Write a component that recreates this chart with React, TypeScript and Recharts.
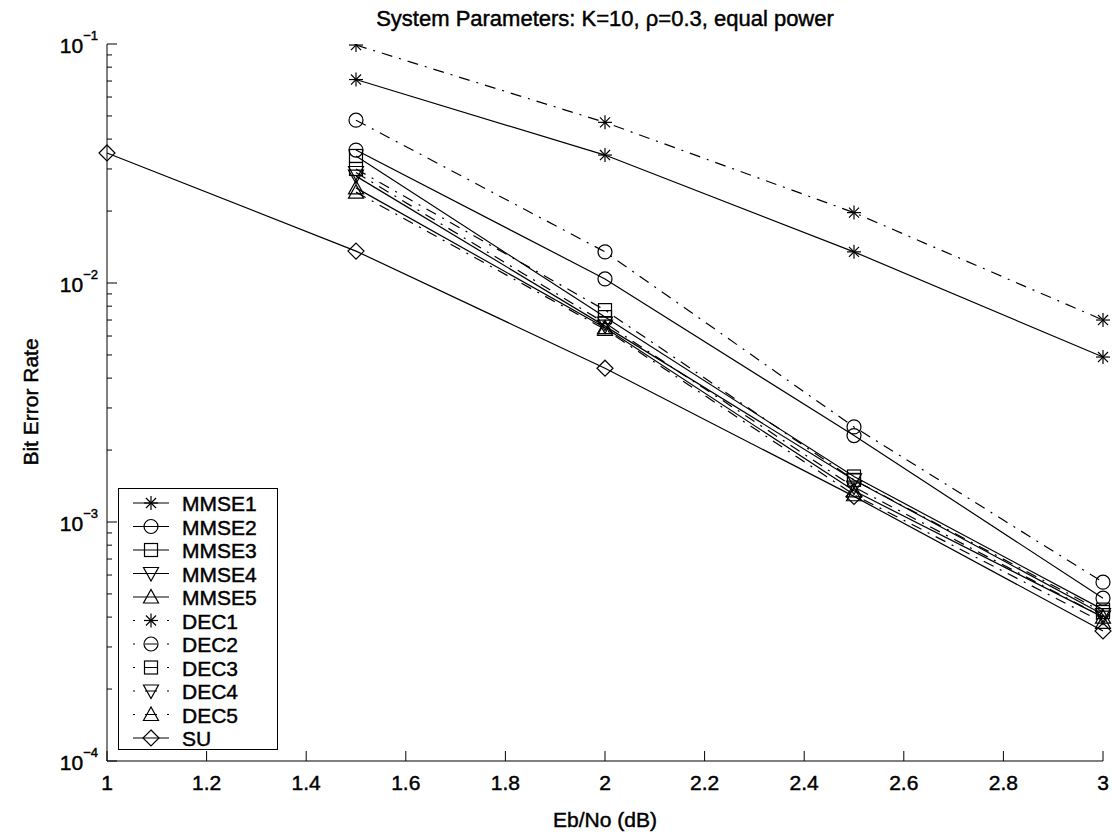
import React from "react";
import { LineChart, Line, XAxis, YAxis } from "recharts";

const ebno = [1, 1.5, 2, 2.5, 3];
const seriesNames = ["MMSE1", "MMSE2", "MMSE3", "MMSE4", "MMSE5", "DEC1", "DEC2", "DEC3", "DEC4", "DEC5", "SU"];
const mmse1 = [null, 0.071, 0.0343, 0.0135, 0.0049];
const mmse2 = [null, 0.036, 0.0104, 0.0023, 0.00048];
const mmse3 = [null, 0.034, 0.0072, 0.00155, 0.00043];
const mmse4 = [null, 0.028, 0.0066, 0.0015, 0.00041];
const mmse5 = [null, 0.025, 0.0065, 0.00135, 0.0004];
const dec1 = [null, 0.099, 0.047, 0.0197, 0.007];
const dec2 = [null, 0.048, 0.0135, 0.0025, 0.00056];
const dec3 = [null, 0.03, 0.0077, 0.0015, 0.00042];
const dec4 = [null, 0.029, 0.0068, 0.0014, 0.0004];
const dec5 = [null, 0.024, 0.0064, 0.0013, 0.00038];
const su = [0.035, 0.0136, 0.0044, 0.00128, 0.00035];
const xTicks = [1, 1.2, 1.4, 1.6, 1.8, 2, 2.2, 2.4, 2.6, 2.8, 3];
const yMajorTicks = [1e-4, 1e-3, 1e-2, 1e-1];
const yMinorMultipliers = [2, 3, 4, 5, 6, 7, 8, 9];

const seriesValues = [mmse1, mmse2, mmse3, mmse4, mmse5, dec1, dec2, dec3, dec4, dec5, su];
const markers = ["star", "circle", "square", "tdown", "tup", "star", "circle", "square", "tdown", "tup", "diamond"];
const dashed = [false, false, false, false, false, true, true, true, true, true, false];

const data = ebno.map((x, i) => {
  const row: any = { x };
  seriesNames.forEach((n, k) => {
    row[n] = seriesValues[k][i];
  });
  return row;
});

const yTicks: number[] = [];
yMajorTicks.forEach((d, i) => {
  yTicks.push(d);
  if (i < yMajorTicks.length - 1) yMinorMultipliers.forEach((m) => yTicks.push(+(m * d).toPrecision(3)));
});

const FONT = "'Liberation Sans', Arial, Helvetica, sans-serif";
const DASH = "11 7 2 7";
const TXT = { fontFamily: FONT, fill: "#000", stroke: "#000", strokeWidth: 0.45 };

function Marker({ type, cx, cy }: { type: string; cx: number; cy: number }) {
  const st = { stroke: "#000", strokeWidth: 1.2, fill: "none" };
  const r = 7;
  switch (type) {
    case "star":
      return (
        <g {...st}>
          <line x1={cx - r} y1={cy} x2={cx + r} y2={cy} />
          <line x1={cx} y1={cy - r} x2={cx} y2={cy + r} />
          <line x1={cx - r * 0.72} y1={cy - r * 0.72} x2={cx + r * 0.72} y2={cy + r * 0.72} />
          <line x1={cx - r * 0.72} y1={cy + r * 0.72} x2={cx + r * 0.72} y2={cy - r * 0.72} />
        </g>
      );
    case "circle":
      return <circle cx={cx} cy={cy} r={r} {...st} />;
    case "square":
      return <rect x={cx - 6.5} y={cy - 6.5} width={13} height={13} {...st} />;
    case "tdown":
      return <polygon points={`${cx - 7.5},${cy - 6} ${cx + 7.5},${cy - 6} ${cx},${cy + 7.5}`} {...st} />;
    case "tup":
      return <polygon points={`${cx - 7.5},${cy + 6} ${cx + 7.5},${cy + 6} ${cx},${cy - 7.5}`} {...st} />;
    case "diamond":
      return <polygon points={`${cx},${cy - 8} ${cx + 8},${cy} ${cx},${cy + 8} ${cx - 8},${cy}`} {...st} />;
    default:
      return null;
  }
}

const isMajor = (v: number) => Math.abs(Math.log10(v) - Math.round(Math.log10(v))) < 1e-6;

function BottomTick(props: any) {
  const { x, y, payload } = props;
  return (
    <g>
      <line x1={x} y1={y} x2={x} y2={y - 10} stroke="#000" />
      <text x={x} y={y + 29} textAnchor="middle" fontSize={21} {...TXT}>
        {String(payload.value)}
      </text>
    </g>
  );
}
function TopTick(props: any) {
  const { x, y } = props;
  return <line x1={x} y1={y} x2={x} y2={y + 10} stroke="#000" />;
}
function LeftTick(props: any) {
  const { x, y, payload } = props;
  const major = isMajor(payload.value);
  const exp = Math.round(Math.log10(payload.value));
  return (
    <g>
      <line x1={x} y1={y} x2={x + (major ? 10 : 5)} y2={y} stroke="#000" />
      {major && (
        <text x={x - 9} y={y + 9} textAnchor="end" {...TXT}>
          <tspan fontSize={21}>10</tspan>
          <tspan fontSize={13} dy={-13}>{"\u2212" + Math.abs(exp)}</tspan>
        </text>
      )}
    </g>
  );
}
function RightTick(props: any) {
  const { x, y, payload } = props;
  const major = isMajor(payload.value);
  return <line x1={x} y1={y} x2={x - (major ? 10 : 5)} y2={y} stroke="#000" />;
}

function makeDot(type: string) {
  return (props: any) => {
    const { cx, cy, value, index } = props;
    if (value == null || cx == null || cy == null || isNaN(cy)) return <g key={`e${index}`} />;
    return (
      <g key={`m${index}`}>
        <Marker type={type} cx={cx} cy={cy} />
      </g>
    );
  };
}

function LegendBox() {
  const rowH = 23.5;
  return (
    <div
      style={{
        position: "absolute",
        left: 118,
        top: 488,
        width: 160,
        height: 262,
        border: "1px solid #000",
        background: "#fff",
        boxSizing: "border-box",
      }}
    >
      <svg width={158} height={260} style={{ display: "block" }}>
        {seriesNames.map((n, i) => {
          const cy = 14 + i * rowH;
          return (
            <g key={n}>
              <line
                x1={14}
                y1={cy}
                x2={50}
                y2={cy}
                stroke="#000"
                strokeWidth={1.2}
                strokeDasharray={dashed[i] ? "2 10 12 10 2" : undefined}
              />
              <Marker type={markers[i]} cx={32} cy={cy} />
              <text x={63} y={cy + 8} fontSize={21} {...TXT}>
                {n}
              </text>
            </g>
          );
        })}
      </svg>
    </div>
  );
}

export default function App() {
  return (
    <div style={{ position: "relative", width: 1112, height: 835, background: "#fff", overflow: "hidden" }}>
      <style>{"html,body{margin:0;padding:0;overflow:hidden;}"}</style>
      <LineChart width={1112} height={835} data={data} margin={{ top: 44, right: 9, bottom: 34, left: 17 }}>
        <XAxis
          dataKey="x"
          type="number"
          domain={[1, 3]}
          ticks={xTicks}
          interval={0}
          height={40}
          tickSize={0}
          tickMargin={0}
          axisLine={{ stroke: "#000" }}
          tick={<BottomTick />}
        />
        <XAxis
          xAxisId="top"
          orientation="top"
          dataKey="x"
          type="number"
          domain={[1, 3]}
          ticks={xTicks}
          interval={0}
          height={0}
          tickSize={0}
          tickMargin={0}
          axisLine={{ stroke: "#000" }}
          tick={<TopTick />}
        />
        <YAxis
          type="number"
          scale="log"
          domain={[1e-4, 1e-1]}
          allowDataOverflow
          ticks={yTicks}
          interval={0}
          width={90}
          tickSize={0}
          tickMargin={0}
          axisLine={{ stroke: "#000" }}
          tick={<LeftTick />}
        />
        <YAxis
          yAxisId="right"
          orientation="right"
          type="number"
          scale="log"
          domain={[1e-4, 1e-1]}
          allowDataOverflow
          ticks={yTicks}
          interval={0}
          width={0}
          tickSize={0}
          tickMargin={0}
          axisLine={{ stroke: "#000" }}
          tick={<RightTick />}
        />
        {seriesNames.map((n, i) => (
          <Line
            key={n}
            dataKey={n}
            stroke="#000"
            strokeWidth={1.2}
            strokeDasharray={dashed[i] ? DASH : undefined}
            dot={makeDot(markers[i])}
            activeDot={false}
            isAnimationActive={false}
            connectNulls={false}
            type="linear"
          />
        ))}
      </LineChart>
      <svg width={1112} height={835} style={{ position: "absolute", left: 0, top: 0, pointerEvents: "none" }}>
        <text x={605} y={26} textAnchor="middle" fontSize={22} {...TXT}>
          System Parameters: K=10, {"\u03C1"}=0.3, equal power
        </text>
        <text x={605} y={827} textAnchor="middle" fontSize={21} {...TXT}>
          Eb/No (dB)
        </text>
        <text x={0} y={0} transform={`translate(38, 402) rotate(-90)`} textAnchor="middle" fontSize={21} {...TXT}>
          Bit Error Rate
        </text>
      </svg>
      <LegendBox />
    </div>
  );
}
